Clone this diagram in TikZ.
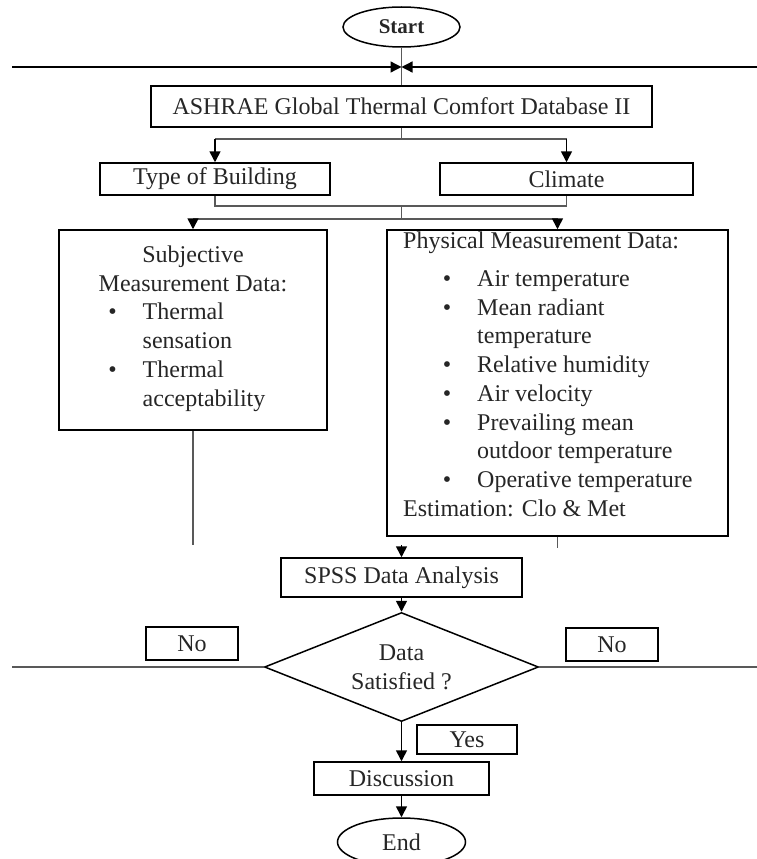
\documentclass[tikz,border=0pt]{standalone}
\usepackage{fontspec}
\setmainfont{Liberation Serif}
\usetikzlibrary{shapes.geometric,arrows.meta}

\newcommand{\bdot}[1]{\makebox[#1][r]{\textbullet\hspace{26pt}}}

\begin{document}
\begin{tikzpicture}[x=1pt,y=-1pt,
	txt/.style={font=\fontsize{24}{28.75}\selectfont, text=black!85},
	box/.style={txt, draw, line width=1.5pt, inner sep=0pt},
	terminal/.style={box, ellipse},
	link/.style={draw=black!65, line width=1.3pt},
	flow/.style={line width=1.6pt, -{Triangle[length=11pt,width=11pt]}}]
	\useasboundingbox (0,0) rectangle (757,859);
	\clip (0,0) rectangle (757,859);

	%boxes
	\node[terminal, minimum width=117pt, minimum height=40pt, font=\fontsize{21}{24}\selectfont\bfseries] (start) at (401.5,27) {Start};
	\node[box, minimum width=501pt, minimum height=41pt] (db) at (401.5,106.5) {ASHRAE Global Thermal Comfort Database II};
	\node[box, minimum width=230pt, minimum height=32pt] (type) at (215,179) {Type of Building};
	\node[box, minimum width=253pt, minimum height=32pt] (climate) at (566.5,179) {Climate};
	\node[box, minimum width=268pt, minimum height=200pt] (subj) at (193,330) {};
	\node[box, minimum width=341pt, minimum height=306pt] (phys) at (557.5,383) {};
	\node[box, minimum width=241pt, minimum height=39pt] (spss) at (401.5,577.5) {SPSS Data Analysis};
	\node[box, diamond, aspect=2.51, minimum width=274pt, minimum height=109pt, align=center] (check) at (401.5,667) {Data\\Satisfied ?};
	\node[box, minimum width=92pt, minimum height=33pt] (nol) at (192,643.5) {No};
	\node[box, minimum width=92pt, minimum height=33pt] (nor) at (612,644.5) {No};
	\node[box, minimum width=100pt, minimum height=29pt] (yes) at (467,739.5) {Yes};
	\node[box, minimum width=175pt, minimum height=33pt] (disc) at (401.5,778.5) {Discussion};
	\node[terminal, minimum width=128pt, minimum height=48pt] (end) at (401.5,842) {End};

	%box texts
	\node[txt, anchor=north, inner sep=0pt] (subjtext) at (193,242) {%
		\begin{tabular}{@{}l@{}l@{}}
		\multicolumn{2}{c}{Subjective}\\
		\multicolumn{2}{c}{Measurement Data:}\\
		\bdot{50pt} & Thermal\\
		 & sensation\\
		\bdot{50pt} & Thermal\\
		 & acceptability
		\end{tabular}};
	\node[txt, anchor=north west, inner sep=0pt] (phystext) at (403,228) {%
		\begin{tabular}{@{}l@{}l@{}}
		\multicolumn{2}{@{}l@{}}{Physical Measurement Data:}\\[9.25pt]
		\bdot{74pt} & Air temperature\\
		\bdot{74pt} & Mean radiant\\
		 & temperature\\
		\bdot{74pt} & Relative humidity\\
		\bdot{74pt} & Air velocity\\
		\bdot{74pt} & Prevailing mean\\
		 & outdoor temperature\\
		\bdot{74pt} & Operative temperature\\
		\multicolumn{2}{@{}l@{}}{Estimation: Clo \& Met}
		\end{tabular}};

	%free ends
	\coordinate (feedl) at (12,67);
	\coordinate (feedr) at (757,67);
	\coordinate (feed) at (401.5,67);
	\coordinate (fork1) at (401.5,139);
	\coordinate (join1) at (401.5,206);
	\coordinate (fork2) at (401.5,219);
	\coordinate (subjend) at (193,545);
	\coordinate (physend) at (557.5,548);
	\coordinate (spssin) at (401.5,545);
	\coordinate (backl) at (12,667);
	\coordinate (backr) at (757,667);

	%lines
	\draw[link] (start) -- (db);
	\draw[flow, line width=1.3pt] (feedl) -- (feed);	%left feed
	\draw[flow, line width=1.3pt] (feedr) -- (feed);	%right feed
	\draw[link] (db) -- (fork1);
	\draw[link] (type |- fork1) -- (climate |- fork1);
	\draw[flow] (type |- fork1) -- (type);
	\draw[flow] (climate |- fork1) -- (climate);
	\draw[link] (type) |- (join1) -| (climate);
	\draw[link] (join1) -- (fork2);
	\draw[link] (subj |- fork2) -- (phys |- fork2);
	\draw[flow] (subj |- fork2) -- (subj);
	\draw[flow] (phys |- fork2) -- (phys);
	\draw[link] (subj) -- (subjend);
	\draw[link] (phys) -- (physend);

	%arrows
	\draw[flow] (spssin) -- (spss);
	\draw[flow] (spss) -- (check);
	\draw[flow] (check) -- (disc);
	\draw[flow] (disc) -- (end);
	\draw[link] (check) -- (backl);	%no, left
	\draw[link] (check) -- (backr);	%no, right
\end{tikzpicture}
\end{document}
